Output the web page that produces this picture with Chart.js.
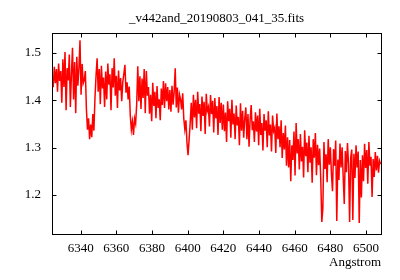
<!DOCTYPE html>
<html><head><meta charset="utf-8">
<script src="https://cdn.jsdelivr.net/npm/chart.js@4/dist/chart.umd.min.js"></script>
<style>html,body{margin:0;padding:0;background:#fff}canvas{display:block}</style>
</head><body>
<canvas id="c" width="400" height="280"></canvas>
<script>
const chartTitle = "_v442and_20190803_041_35.fits";
const xLabel = "Angstrom";
// linear dispersion of the spectrum (start wavelength and step, Angstrom)
const waveStart = 6324.0;
const waveStep = 0.6;
const flux = [
1.452,1.428,1.471,1.436,1.466,1.418,1.478,1.441,1.462,1.395,
1.487,1.428,1.502,1.379,1.468,1.442,1.497,1.386,1.455,1.511,
1.402,1.481,1.373,1.492,1.431,1.468,1.527,1.412,1.477,1.436,
1.443,1.462,1.381,1.338,1.362,1.318,1.349,1.322,1.371,1.336,
1.405,1.452,1.489,1.418,1.466,1.392,1.473,1.425,1.448,1.386,
1.461,1.402,1.478,1.433,1.455,1.379,1.468,1.427,1.489,1.410,
1.452,1.384,1.463,1.421,1.447,1.398,1.439,1.456,1.475,1.416,
1.438,1.402,1.429,1.368,1.338,1.355,1.327,1.362,1.351,1.392,
1.472,1.398,1.451,1.382,1.446,1.405,1.466,1.373,1.462,1.410,
1.428,1.372,1.412,1.356,1.437,1.388,1.418,1.362,1.430,1.384,
1.402,1.358,1.425,1.390,1.441,1.384,1.436,1.398,1.428,1.381,
1.422,1.376,1.431,1.391,1.418,1.468,1.385,1.427,1.374,1.412,
1.402,1.381,1.415,1.362,1.339,1.358,1.310,1.284,1.318,1.352,
1.395,1.338,1.412,1.364,1.401,1.341,1.418,1.372,1.392,1.335,
1.408,1.367,1.397,1.329,1.414,1.378,1.386,1.345,1.411,1.371,
1.399,1.332,1.405,1.362,1.388,1.327,1.407,1.352,1.395,1.338,
1.391,1.335,1.374,1.312,1.398,1.356,1.382,1.321,1.401,1.349,
1.372,1.318,1.389,1.347,1.365,1.305,1.394,1.336,1.378,1.321,
1.362,1.385,1.318,1.371,1.302,1.359,1.390,1.337,1.356,1.312,
1.375,1.334,1.368,1.305,1.382,1.327,1.352,1.294,1.371,1.336,
1.358,1.301,1.377,1.326,1.349,1.292,1.368,1.335,1.342,1.289,
1.372,1.318,1.345,1.301,1.358,1.278,1.331,1.296,1.347,1.262,
1.322,1.258,1.316,1.229,1.305,1.274,1.334,1.241,1.352,1.288,
1.318,1.254,1.329,1.271,1.302,1.237,1.337,1.282,1.311,1.248,
1.325,1.268,1.301,1.226,1.318,1.279,1.331,1.242,1.306,1.263,
1.298,1.236,1.143,1.172,1.312,1.255,1.286,1.227,1.318,1.264,
1.301,1.245,1.208,1.297,1.262,1.315,1.145,1.275,1.232,1.309,
1.258,1.301,1.238,1.181,1.293,1.248,1.310,1.264,1.143,1.279,
1.296,1.147,1.287,1.236,1.305,1.258,1.292,1.141,1.274,1.195,
1.284,1.229,1.308,1.257,1.295,1.224,1.312,1.262,1.281,1.196,
1.276,1.238,1.291,1.252,1.283,1.247,1.272,1.265
];
const xTicks = [6340,6360,6380,6400,6420,6440,6460,6480,6500];
const yTicks = [1.2,1.3,1.4,1.5];
const xRange = [6323.9, 6508.4];
const yRange = [1.1176, 1.5423];

const points = flux.map((v, i) => ({x: waveStart + i * waveStep, y: v}));
const FONT = {family: "'Liberation Serif', serif", size: 13};

const framePlugin = {
  id: 'frame',
  afterDatasetsDraw(chart) {
    const {ctx, chartArea: a, scales: {x, y}} = chart;
    ctx.save();
    ctx.strokeStyle = '#000';
    ctx.lineWidth = 1;
    const L = a.left + 0.5, R = a.right + 0.5, T = a.top + 0.5, B = a.bottom + 0.5;
    ctx.strokeRect(L, T, R - L, B - T);
    ctx.beginPath();
    const len = 4;
    x.ticks.forEach(t => {
      const px = Math.round(x.getPixelForValue(t.value)) + 0.5;
      ctx.moveTo(px, B); ctx.lineTo(px, B - len);
      ctx.moveTo(px, T); ctx.lineTo(px, T + len);
    });
    y.ticks.forEach(t => {
      const py = Math.round(y.getPixelForValue(t.value)) + 0.5;
      ctx.moveTo(L, py); ctx.lineTo(L + len, py);
      ctx.moveTo(R, py); ctx.lineTo(R - len, py);
    });
    ctx.stroke();
    ctx.fillStyle = '#000';
    ctx.font = `${FONT.size}px ${FONT.family}`;
    ctx.textAlign = 'center';
    ctx.textBaseline = 'middle';
    ctx.fillText(chartTitle, (a.left + a.right) / 2, 19);
    ctx.restore();
  }
};

new Chart(document.getElementById('c'), {
  type: 'line',
  data: {
    datasets: [{
      data: points,
      borderColor: '#ff0000',
      borderWidth: 1.5,
      pointRadius: 0,
      tension: 0,
      fill: false
    }]
  },
  options: {
    responsive: false,
    devicePixelRatio: 1,
    animation: false,
    parsing: false,
    layout: {padding: {top: 33, right: 19, left: 0, bottom: 0}},
    plugins: {legend: {display: false}, tooltip: {enabled: false}, title: {display: false}},
    scales: {
      x: {
        type: 'linear',
        min: xRange[0], max: xRange[1],
        afterBuildTicks: s => { s.ticks = xTicks.map(v => ({value: v})); },
        afterFit: s => { s.height = 46; },
        grid: {display: false, drawTicks: false},
        border: {display: false},
        ticks: {font: FONT, color: '#000', padding: 7, maxRotation: 0, autoSkip: false,
                callback: v => String(v)},
        title: {display: true, text: xLabel, align: 'end', color: '#000', font: FONT,
                padding: {top: 0, bottom: 10}}
      },
      y: {
        type: 'linear',
        min: yRange[0], max: yRange[1],
        afterBuildTicks: s => { s.ticks = yTicks.map(v => ({value: v})); },
        afterFit: s => { s.width = 52; },
        grid: {display: false, drawTicks: false},
        border: {display: false},
        ticks: {font: FONT, color: '#000', padding: 11, autoSkip: false,
                callback: v => v.toFixed(1)}
      }
    }
  },
  plugins: [framePlugin]
});
</script>
</body></html>
